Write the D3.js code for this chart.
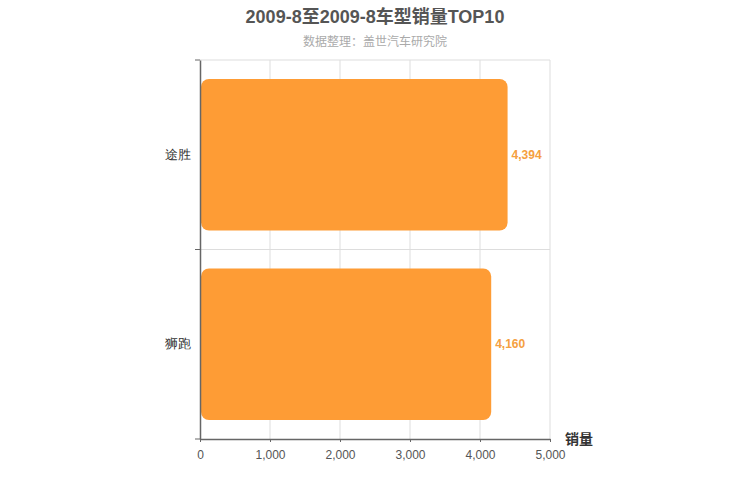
<!DOCTYPE html>
<html>
<head>
<meta charset="utf-8">
<script src="https://cdn.jsdelivr.net/npm/d3@7"></script>
<style>
  body { margin: 0; background: #fff; }
  svg { font-family: "Liberation Sans", "Noto Sans CJK SC", sans-serif; }
</style>
</head>
<body>
<div id="chart"></div>
<script>
// données
const categories = ["途胜", "狮跑"];
const sales = [4394, 4160];
const xTicks = [0, 1000, 2000, 3000, 4000, 5000];

const width = 750, height = 500;
const margin = { top: 60, right: 200, bottom: 61, left: 200 };

const svg = d3.select("#chart").append("svg")
    .attr("width", width)
    .attr("height", height);

const x = d3.scaleLinear()
    .domain([0, 5000])
    .range([margin.left, width - margin.right]);

const y = d3.scaleBand()
    .domain(categories)
    .range([margin.top, height - margin.bottom])
    .paddingInner(0.2)
    .paddingOuter(0.1);

// titre
svg.append("text")
    .attr("x", width / 2).attr("y", 23)
    .attr("text-anchor", "middle")
    .style("font-size", "18px").style("font-weight", "bold").style("fill", "#555")
    .text("2009-8至2009-8车型销量TOP10");

svg.append("text")
    .attr("x", width / 2).attr("y", 46)
    .attr("text-anchor", "middle")
    .style("font-size", "12px").style("fill", "#aaa")
    .text("数据整理：盖世汽车研究院");

// grille
const grid = svg.append("g");
grid.selectAll("line.v")
    .data(xTicks.slice(1))
    .join("line")
    .attr("x1", d => x(d)).attr("x2", d => x(d))
    .attr("y1", margin.top).attr("y2", height - margin.bottom)
    .attr("stroke", "#ddd");

const bandEdges = [margin.top, (margin.top + height - margin.bottom) / 2];
grid.selectAll("line.h")
    .data(bandEdges)
    .join("line")
    .attr("x1", margin.left).attr("x2", width - margin.right)
    .attr("y1", d => d).attr("y2", d => d)
    .attr("stroke", "#ddd");

// barres
svg.append("g")
    .selectAll("rect")
    .data(categories)
    .join("rect")
    .attr("x", x(0) + 1)
    .attr("y", d => y(d))
    .attr("width", (d, i) => x(sales[i]) - x(0) - 1)
    .attr("height", y.bandwidth())
    .attr("rx", 8)
    .attr("fill", "#fe9c35");

// étiquettes valeurs
svg.append("g")
    .selectAll("text")
    .data(categories)
    .join("text")
    .attr("x", (d, i) => x(sales[i]) + 4)
    .attr("y", d => y(d) + y.bandwidth() / 2)
    .attr("dy", "0.35em")
    .style("font-size", "12px").style("font-weight", "bold").style("fill", "#f5a040")
    .text((d, i) => d3.format(",")(sales[i]));

// axe x
const xAxis = svg.append("g")
    .attr("transform", `translate(0,${height - margin.bottom})`)
    .call(d3.axisBottom(x).tickValues(xTicks).tickFormat(d3.format(",")).tickSize(3).tickSizeOuter(0));
xAxis.select(".domain").attr("stroke", "#666").attr("stroke-width", 1.5);
xAxis.selectAll(".tick line").attr("stroke", "#666");
xAxis.selectAll("text")
    .style("font-size", "12px").style("fill", "#555")
    .attr("dy", "1.2em");

svg.append("text")
    .attr("x", width - margin.right + 15).attr("y", height - margin.bottom + 5)
    .style("font-size", "14px").style("font-weight", "bold").style("fill", "#333")
    .text("销量");

// axe y
const yAxis = svg.append("g")
    .attr("transform", `translate(${margin.left},0)`)
    .call(d3.axisLeft(y).tickSize(0).tickPadding(9));
yAxis.select(".domain").attr("stroke", "#666").attr("stroke-width", 1.5);
yAxis.selectAll("text").style("font-size", "13px").style("fill", "#333");

yAxis.selectAll("line.edge")
    .data([margin.top, bandEdges[1], height - margin.bottom])
    .join("line")
    .attr("class", "edge")
    .attr("x1", -5).attr("x2", 0)
    .attr("y1", d => d - margin.top * 0 ).attr("y2", d => d)
    .attr("stroke", "#666");
</script>
</body>
</html>
